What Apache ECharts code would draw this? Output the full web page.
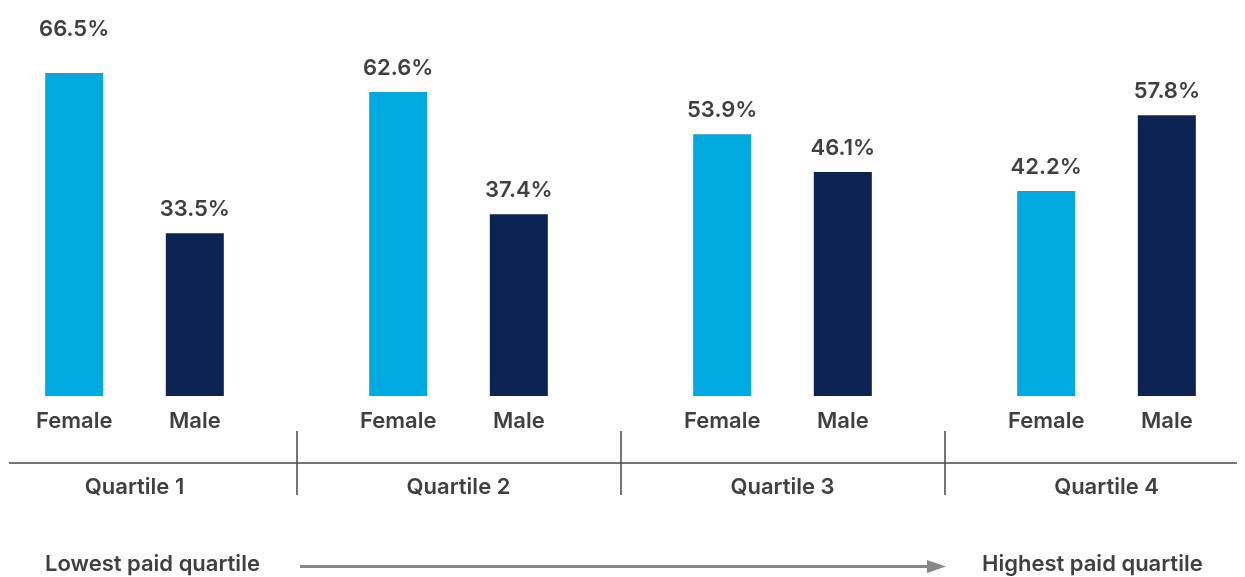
<!DOCTYPE html>
<html>
<head>
<meta charset="utf-8">
<script src="https://cdn.jsdelivr.net/npm/echarts@6/dist/echarts.min.js"></script>
<style>
html,body{margin:0;padding:0;background:#fff;overflow:hidden;width:1245px;height:577px;position:relative;}
#c{position:absolute;left:-28px;top:0;width:1301px;height:577px;}
</style>
</head>
<body>
<div id="c"></div>
<script>
const quartiles = ['Quartile 1', 'Quartile 2', 'Quartile 3', 'Quartile 4'];
const female = [66.5, 62.6, 53.9, 42.2];
const male = [33.5, 37.4, 46.1, 57.8];
const genderLabels = ['Female', 'Male'];
const footLabels = ['Lowest paid quartile', 'Highest paid quartile'];

const FONT = 'Inter';
const TXT = '#404040';
const LINE = '#4a4a4a';
const C_F = '#00a9e0';
const C_M = '#0c2354';
const SX = 28; // container shift (page x -> container x)

const chart = echarts.init(document.getElementById('c'), null, {renderer: 'canvas'});

function valueLabel() {
  return {
    show: true, position: 'top', distance: 13,
    fontFamily: FONT, fontSize: 22, fontWeight: 600, color: TXT,
    formatter: p => p.value.toFixed(1) + '%'
  };
}
function tagLabel(text) {
  return {
    show: true, position: 'bottom', distance: 14,
    fontFamily: FONT, fontSize: 22, fontWeight: 600, color: TXT,
    formatter: text
  };
}

const femaleData = female.map((v, i) => i === 0 ? {value: v, label: {offset: [0, -20]}} : v);

const option = {
  animation: false,
  grid: [
    {left: 0.5, width: 1296, top: 56, bottom: 181},
    {left: 0.5, width: 1296, top: 431, height: 32}
  ],
  xAxis: [
    {type: 'category', gridIndex: 0, data: quartiles, show: false},
    {
      type: 'category', gridIndex: 1, data: quartiles, position: 'bottom',
      axisLine: {show: false},
      axisTick: {show: true, length: 32, lineStyle: {color: LINE, width: 1.5}},
      splitLine: {show: true, lineStyle: {color: LINE, width: 1.5}},
      axisLabel: {margin: 13, fontFamily: FONT, fontSize: 22, fontWeight: 600, color: TXT}
    }
  ],
  yAxis: [
    {type: 'value', gridIndex: 0, min: 0, max: 70, show: false},
    {type: 'value', gridIndex: 1, show: false}
  ],
  series: [
    {name: 'FemaleTag', type: 'bar', stack: 'f', data: female.map(() => 0),
     barWidth: 58, barGap: '108%', itemStyle: {color: C_F}, label: tagLabel(genderLabels[0]), silent: true},
    {name: 'Female', type: 'bar', stack: 'f', data: femaleData,
     barWidth: 58, barGap: '108%', itemStyle: {color: C_F}, label: valueLabel()},
    {name: 'MaleTag', type: 'bar', stack: 'm', data: male.map(() => 0),
     barWidth: 58, barGap: '108%', itemStyle: {color: C_M}, label: tagLabel(genderLabels[1]), silent: true},
    {name: 'Male', type: 'bar', stack: 'm', data: male,
     barWidth: 58, barGap: '108%', itemStyle: {color: C_M}, label: valueLabel()}
  ],
  graphic: [
    {type: 'line', shape: {x1: 9 + SX, y1: 463, x2: 1237 + SX, y2: 463}, style: {stroke: LINE, lineWidth: 1.5}, silent: true},
    {type: 'text', left: 45 + SX, top: 553, style: {text: footLabels[0], fontFamily: FONT, fontSize: 22, fontWeight: 600, fill: TXT}},
    {type: 'text', left: 982 + SX, top: 553, style: {text: footLabels[1], fontFamily: FONT, fontSize: 22, fontWeight: 600, fill: TXT}},
    {type: 'line', shape: {x1: 300 + SX, y1: 566.5, x2: 930 + SX, y2: 566.5}, style: {stroke: '#888888', lineWidth: 3}, silent: true},
    {type: 'polygon', shape: {points: [[927 + SX, 560], [946 + SX, 566.5], [927 + SX, 573]]}, style: {fill: '#888888'}, silent: true}
  ]
};
chart.setOption(option);
</script>
</body>
</html>
